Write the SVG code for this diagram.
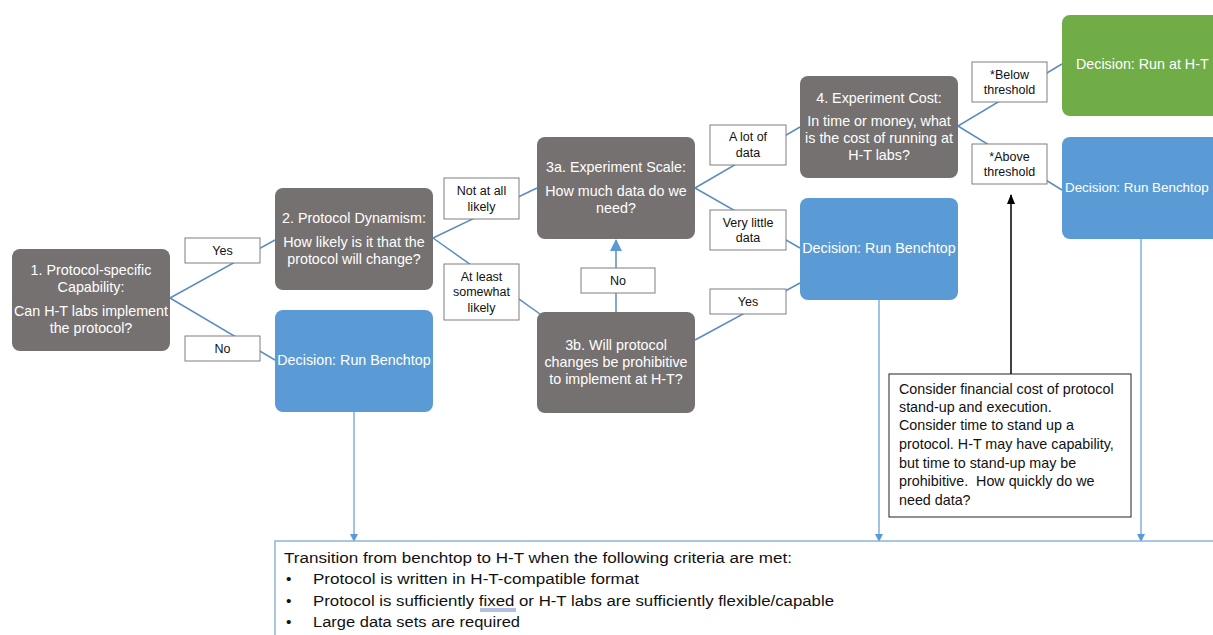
<svg xmlns="http://www.w3.org/2000/svg" width="1213" height="635" viewBox="0 0 1213 635">
<style>
.q{fill:#767171}
.d{fill:#5B9BD5}
.g{fill:#70AD47}
.t{font-family:"Liberation Sans",Arial,sans-serif;font-size:14.3px;fill:#fff;text-anchor:middle}
.lb{fill:#fff;stroke:#7f7f7f;stroke-width:1}
.lt{font-family:"Liberation Sans",Arial,sans-serif;font-size:12.5px;fill:#111;text-anchor:middle}
.c{stroke:#5B8CC0;stroke-width:1.5;fill:none}
.n{font-family:"Liberation Sans",Arial,sans-serif;font-size:14.3px;fill:#111}
.b{font-family:"Liberation Sans",Arial,sans-serif;font-size:15.5px;fill:#111}
</style>
<defs>
<marker id="ab" markerWidth="8" markerHeight="8" refX="7" refY="4" orient="auto" markerUnits="userSpaceOnUse"><path d="M0,0 L8,4 L0,8 z" fill="#5B9BD5"/></marker>
<marker id="abig" markerWidth="12" markerHeight="12" refX="11" refY="6" orient="auto" markerUnits="userSpaceOnUse"><path d="M0,0 L12,6 L0,12 z" fill="#5B9BD5"/></marker>
<marker id="ak" markerWidth="10" markerHeight="10" refX="9" refY="5" orient="auto" markerUnits="userSpaceOnUse"><path d="M0,1 L10,5 L0,9 z" fill="#000"/></marker>
</defs>
<rect width="1213" height="635" fill="#fff"/>

<g id="connectors">
<line class="c" x1="170" y1="298" x2="275" y2="240"/>
<line class="c" x1="170" y1="298" x2="275" y2="360"/>
<line class="c" x1="433" y1="238" x2="537" y2="188"/>
<line class="c" x1="433" y1="238" x2="540" y2="314"/>
<line class="c" x1="695" y1="188" x2="800" y2="127"/>
<line class="c" x1="695" y1="188" x2="800" y2="248"/>
<line class="c" x1="695" y1="340" x2="800" y2="283"/>
<line class="c" x1="958" y1="126" x2="1062" y2="64"/>
<line class="c" x1="958" y1="126" x2="1062" y2="190"/>
<line class="c" x1="616" y1="312" x2="616" y2="240" marker-end="url(#abig)"/>
<line x1="354" y1="412" x2="354" y2="541" stroke="#5B9BD5" stroke-width="1.2" marker-end="url(#ab)"/>
<line x1="879" y1="300" x2="879" y2="541" stroke="#5B9BD5" stroke-width="1.2" marker-end="url(#ab)"/>
<line x1="1141" y1="239" x2="1141" y2="541" stroke="#5B9BD5" stroke-width="1.2" marker-end="url(#ab)"/>
<line x1="1011" y1="374" x2="1011" y2="195" stroke="#000" stroke-width="1.5" marker-end="url(#ak)"/>
</g>

<g id="lbl-yes1"><rect class="lb" x="185" y="238" width="75" height="25"/><text class="lt" x="222.5" y="255">Yes</text></g>
<g id="lbl-no1"><rect class="lb" x="185" y="336" width="75" height="25"/><text class="lt" x="222.5" y="353">No</text></g>
<g id="lbl-notatall"><rect class="lb" x="444" y="178" width="75" height="41"/><text class="lt" x="481.5" y="195">Not at all</text><text class="lt" x="481.5" y="211">likely</text></g>
<g id="lbl-atleast"><rect class="lb" x="444" y="264" width="75" height="56"/><text class="lt" x="481.5" y="281">At least</text><text class="lt" x="481.5" y="296">somewhat</text><text class="lt" x="481.5" y="312">likely</text></g>
<g id="lbl-no2"><rect class="lb" x="581" y="268" width="74" height="25"/><text class="lt" x="618" y="285">No</text></g>
<g id="lbl-alot"><rect class="lb" x="710" y="125" width="76" height="40"/><text class="lt" x="748" y="141">A lot of</text><text class="lt" x="748" y="157">data</text></g>
<g id="lbl-little"><rect class="lb" x="710" y="210" width="76" height="40"/><text class="lt" x="748" y="227">Very little</text><text class="lt" x="748" y="242">data</text></g>
<g id="lbl-yes2"><rect class="lb" x="710" y="289" width="76" height="25"/><text class="lt" x="748" y="306">Yes</text></g>
<g id="lbl-below"><rect class="lb" x="972" y="62" width="75" height="40"/><text class="lt" x="1009.5" y="79">*Below</text><text class="lt" x="1009.5" y="94">threshold</text></g>
<g id="lbl-above"><rect class="lb" x="972" y="144" width="75" height="40"/><text class="lt" x="1009.5" y="161">*Above</text><text class="lt" x="1009.5" y="176">threshold</text></g>

<g id="n1"><rect class="q" x="12" y="249" width="158" height="102" rx="8"/>
<text class="t" x="91" y="275">1. Protocol-specific</text><text class="t" x="91" y="292">Capability:</text><text class="t" x="91" y="316">Can H-T labs implement</text><text class="t" x="91" y="333">the protocol?</text></g>
<g id="n2"><rect class="q" x="275" y="188" width="158" height="102" rx="8"/>
<text class="t" x="354" y="223">2. Protocol Dynamism:</text><text class="t" x="354" y="247">How likely is it that the</text><text class="t" x="354" y="264">protocol will change?</text></g>
<g id="d1"><rect class="d" x="275" y="310" width="158" height="102" rx="8"/>
<text class="t" x="354" y="365">Decision: Run Benchtop</text></g>
<g id="n3a"><rect class="q" x="537" y="137" width="158" height="102" rx="8"/>
<text class="t" x="616" y="172">3a. Experiment Scale:</text><text class="t" x="616" y="196">How much data do we</text><text class="t" x="616" y="213">need?</text></g>
<g id="n3b"><rect class="q" x="537" y="312" width="158" height="101" rx="8"/>
<text class="t" x="616" y="350">3b. Will protocol</text><text class="t" x="616" y="367">changes be prohibitive</text><text class="t" x="616" y="384">to implement at H-T?</text></g>
<g id="d2"><rect class="d" x="800" y="198" width="158" height="102" rx="8"/>
<text class="t" x="879" y="253">Decision: Run Benchtop</text></g>
<g id="n4"><rect class="q" x="800" y="76" width="158" height="102" rx="8"/>
<text class="t" x="879" y="103">4. Experiment Cost:</text><text class="t" x="879" y="126">In time or money, what</text><text class="t" x="879" y="143">is the cost of running at</text><text class="t" x="879" y="160">H-T labs?</text></g>
<g id="d3"><rect class="g" x="1062" y="15" width="170" height="101" rx="8"/>
<text class="t" x="1076" y="69" style="text-anchor:start">Decision: Run at H-T</text></g>
<g id="d4"><rect class="d" x="1062" y="137" width="170" height="102" rx="8"/>
<text class="t" x="1065" y="192" style="text-anchor:start;font-size:13.4px">Decision: Run Benchtop</text></g>

<g id="note"><rect x="889" y="374" width="242" height="143" fill="#fff" stroke="#222" stroke-width="1"/>
<text class="n" x="899" y="394">Consider financial cost of protocol</text>
<text class="n" x="899" y="412">stand-up and execution.</text>
<text class="n" x="899" y="430">Consider time to stand up a</text>
<text class="n" x="899" y="449">protocol. H-T may have capability,</text>
<text class="n" x="899" y="468">but time to stand-up may be</text>
<text class="n" x="899" y="486">prohibitive.&#160; How quickly do we</text>
<text class="n" x="899" y="505">need data?</text></g>

<g id="transition"><path d="M275,636 L275,541 L1214,541" fill="none" stroke="#8FB4DE" stroke-width="1.5"/>
<text class="b" x="284" y="563" textLength="508" lengthAdjust="spacingAndGlyphs">Transition from benchtop to H-T when the following criteria are met:</text>
<text class="b" x="286" y="584">•</text><text class="b" x="313" y="584" textLength="326" lengthAdjust="spacingAndGlyphs">Protocol is written in H-T-compatible format</text>
<text class="b" x="286" y="606">•</text><text class="b" x="313" y="606" textLength="521" lengthAdjust="spacingAndGlyphs">Protocol is sufficiently fixed or H-T labs are sufficiently flexible/capable</text>
<line x1="480" y1="609" x2="516" y2="609" stroke="#6A7FC0" stroke-width="1"/><line x1="480" y1="611" x2="516" y2="611" stroke="#6A7FC0" stroke-width="1"/>
<text class="b" x="286" y="627">•</text><text class="b" x="313" y="627" textLength="207" lengthAdjust="spacingAndGlyphs">Large data sets are required</text></g>
</svg>
